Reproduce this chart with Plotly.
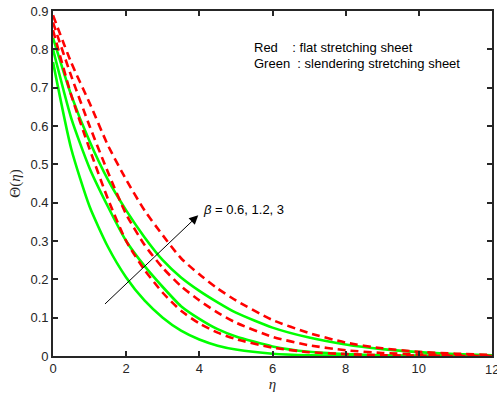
import plotly.graph_objects as go

eta = [0, 0.5, 1, 1.5, 2, 2.5, 3, 3.5, 4, 4.5, 5, 6, 7, 8, 9, 10, 11, 12]

# Red: flat stretching sheet (beta = 0.6, 1.2, 3)
red_b06 = [0.850, 0.680, 0.540, 0.410, 0.300, 0.225, 0.165, 0.118, 0.085, 0.061, 0.044, 0.022, 0.010, 0.005, 0.002, 0.001, 0.0, 0.0]
red_b12 = [0.870, 0.730, 0.600, 0.480, 0.370, 0.290, 0.230, 0.182, 0.145, 0.113, 0.087, 0.050, 0.028, 0.015, 0.008, 0.004, 0.002, 0.001]
red_b3 = [0.889, 0.765, 0.660, 0.550, 0.460, 0.380, 0.315, 0.255, 0.213, 0.176, 0.145, 0.094, 0.060, 0.035, 0.020, 0.011, 0.006, 0.003]

# Green: slendering stretching sheet (beta = 0.6, 1.2, 3)
green_b06 = [0.767, 0.540, 0.390, 0.285, 0.205, 0.145, 0.100, 0.066, 0.043, 0.027, 0.017, 0.006, 0.002, 0.001, 0.0, 0.0, 0.0, 0.0]
green_b12 = [0.800, 0.620, 0.490, 0.390, 0.300, 0.235, 0.180, 0.130, 0.097, 0.070, 0.051, 0.025, 0.011, 0.005, 0.002, 0.001, 0.0, 0.0]
green_b3 = [0.830, 0.680, 0.560, 0.460, 0.380, 0.310, 0.250, 0.205, 0.170, 0.140, 0.113, 0.074, 0.048, 0.030, 0.018, 0.010, 0.005, 0.002]

x_ticks = [0, 2, 4, 6, 8, 10, 12]
x_tick_text = ["0", "2", "4", "6", "8", "10", "12"]
y_ticks = [0, 0.1, 0.2, 0.3, 0.4, 0.5, 0.6, 0.7, 0.8, 0.9]
y_tick_text = ["0", "0.1", "0.2", "0.3", "0.4", "0.5", "0.6", "0.7", "0.8", "0.9"]

legend_lines = ["Red&nbsp;&nbsp;&nbsp;&nbsp;: flat stretching sheet",
                "Green&nbsp;&nbsp;: slendering stretching sheet"]
beta_label = "<i>β</i> = 0.6, 1.2, 3"

fig = go.Figure()
for ys in [green_b06, green_b12, green_b3]:
    fig.add_trace(go.Scatter(x=eta, y=ys, mode="lines",
                             line=dict(color="#00FF00", width=2.6, shape="spline", smoothing=0.6),
                             showlegend=False, hoverinfo="skip"))
for ys in [red_b06, red_b12, red_b3]:
    fig.add_trace(go.Scatter(x=eta, y=ys, mode="lines",
                             line=dict(color="#FF0000", width=2.6, dash="8px,5px", shape="spline", smoothing=0.6),
                             showlegend=False, hoverinfo="skip"))

tick_font = dict(family="Liberation Sans, Arial", size=13, color="#262626")
axis_common = dict(showline=True, linecolor="#262626", linewidth=1.6, mirror="ticks",
                   ticks="inside", ticklen=5, tickwidth=1.5, tickcolor="#262626",
                   showgrid=False, zeroline=False, automargin=False, tickfont=tick_font)

fig.update_xaxes(range=[0, 12], tickvals=x_ticks, ticktext=x_tick_text, **axis_common,
                 title=dict(text="<i>η</i>", font=dict(family="Liberation Serif, Times New Roman", size=15, color="#262626"), standoff=2))
fig.update_yaxes(range=[0, 0.9], tickvals=y_ticks, ticktext=y_tick_text, **axis_common,
                 title=dict(text="Θ(<i>η</i>)", font=dict(family="Liberation Serif, Times New Roman", size=15, color="#262626"), standoff=6))

# last x tick label is clipped by the page edge in the original; draw it explicitly
fig.add_annotation(x=x_ticks[-1], y=0, xref="x", yref="y", text=x_tick_text[-1], showarrow=False,
                   xanchor="center", yanchor="top", yshift=-4, font=tick_font)

legend_y = [0.806, 0.764]
for t, yy in zip(legend_lines, legend_y):
    fig.add_annotation(x=0.453, y=yy, xref="x domain", yref="y", text=t, showarrow=False,
                       xanchor="left", yanchor="middle",
                       font=dict(family="Liberation Sans, Arial", size=13, color="#000000"))

fig.add_annotation(x=3.97, y=0.367, ax=1.38, ay=0.132, xref="x", yref="y", axref="x", ayref="y",
                   text="", showarrow=True, arrowhead=2, arrowsize=1.8, arrowwidth=1, arrowcolor="#000000")
fig.add_annotation(x=4.05, y=0.381, xref="x", yref="y", text=beta_label, showarrow=False,
                   xanchor="left", yanchor="middle",
                   font=dict(family="Liberation Sans, Arial", size=13, color="#000000"))

fig.update_layout(width=497, height=403, margin=dict(l=53, r=5, t=11, b=47, autoexpand=False),
                  plot_bgcolor="white", paper_bgcolor="white")

fig.write_html("out.html")
